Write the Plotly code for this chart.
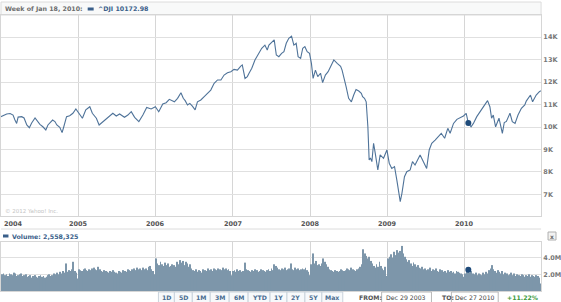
import plotly.graph_objects as go
import pandas as pd

# ---------------- data ----------------
price_dates = [
    "2003-12-29","2004-01-12","2004-01-27","2004-02-12","2004-02-26","2004-03-06","2004-03-14","2004-03-21",
    "2004-04-07","2004-04-18","2004-05-01","2004-05-13","2004-05-24","2004-06-09","2004-06-20","2004-07-02",
    "2004-07-16","2004-07-30","2004-08-09","2004-08-31","2004-09-11","2004-09-20","2004-10-04","2004-10-15",
    "2004-10-23","2004-11-05","2004-11-20","2004-12-05","2004-12-19","2005-01-03","2005-01-19","2005-02-04",
    "2005-02-23","2005-03-07","2005-03-26","2005-04-08","2005-04-26","2005-05-09","2005-05-20","2005-06-12",
    "2005-06-28","2005-07-14","2005-08-06","2005-08-22","2005-09-07","2005-09-23","2005-10-13","2005-11-01",
    "2005-11-19","2005-12-10","2005-12-30","2006-01-15","2006-02-03","2006-02-19","2006-03-06","2006-03-22",
    "2006-03-30","2006-04-14","2006-04-30","2006-05-11","2006-05-20","2006-05-31","2006-06-11","2006-06-23",
    "2006-07-06","2006-07-17","2006-08-02","2006-08-18","2006-09-02","2006-09-18","2006-10-04","2006-10-20",
    "2006-11-05","2006-11-20","2006-12-06","2006-12-22","2007-01-06","2007-01-22","2007-02-07","2007-02-14",
    "2007-02-27","2007-03-10","2007-03-18","2007-03-31","2007-04-15","2007-05-01","2007-05-17","2007-06-01",
    "2007-06-12","2007-06-20","2007-07-06","2007-07-15","2007-07-25","2007-08-06","2007-08-19","2007-08-30",
    "2007-09-10","2007-09-22","2007-10-05","2007-10-16","2007-10-27","2007-11-05","2007-11-17","2007-11-27",
    "2007-12-07","2007-12-18","2007-12-29","2008-01-07","2008-01-15","2008-01-26","2008-02-06","2008-02-19",
    "2008-02-29","2008-03-13","2008-03-26","2008-04-06","2008-04-22","2008-05-08","2008-05-24","2008-05-31",
    "2008-06-08","2008-06-19","2008-07-01","2008-07-14","2008-07-25","2008-08-05","2008-08-18","2008-08-30",
    "2008-09-05","2008-09-14","2008-09-22","2008-09-30","2008-10-06","2008-10-12","2008-10-19","2008-10-27",
    "2008-11-04","2008-11-16","2008-11-27","2008-12-13","2008-12-29","2009-01-09","2009-01-21","2009-02-03",
    "2009-02-14","2009-02-22","2009-03-02","2009-03-10","2009-03-22","2009-04-02","2009-04-18","2009-04-29",
    "2009-05-11","2009-06-04","2009-06-20","2009-07-05","2009-07-17","2009-07-29","2009-08-14","2009-08-27",
    "2009-09-12","2009-09-28","2009-10-13","2009-10-24","2009-11-09","2009-11-25","2009-12-11","2009-12-26",
    "2010-01-08","2010-01-18","2010-01-31","2010-02-11","2010-02-27","2010-03-15","2010-04-04","2010-04-19",
    "2010-04-30","2010-05-08","2010-05-16","2010-05-27","2010-06-12","2010-06-24","2010-06-28","2010-07-07",
    "2010-07-17","2010-08-03","2010-08-14","2010-08-27","2010-09-10","2010-09-26","2010-10-12","2010-10-19",
    "2010-10-30","2010-11-08","2010-11-18","2010-11-27","2010-12-05","2010-12-20","2010-12-27",
]
price_values = [
    10450,10530,10580,10600,10530,10310,10160,10440,
    10460,10400,10090,9970,10180,10400,10240,10120,
    10010,9870,10090,10310,10240,10090,9985,9750,
    10010,10460,10500,10610,10800,10580,10390,10760,
    10900,10610,10390,10090,10240,10310,10430,10610,
    10490,10580,10430,10530,10680,10430,10240,10530,
    10870,10800,10900,10680,11020,11080,11230,11150,
    11120,11275,11520,11275,11170,10980,11050,10930,
    10760,11120,11200,11350,11500,11640,11940,12090,
    12090,12310,12410,12460,12560,12530,12710,12760,
    12160,12240,12390,12610,12980,13270,13500,13640,
    13420,13640,13790,13870,13200,13125,13270,13350,
    13720,13940,14040,13640,13720,13125,13050,13500,
    13570,13350,13270,12830,12160,12530,12240,12390,
    11970,12310,12460,12680,12980,12830,12700,12530,
    12240,11790,11275,11120,11420,11670,11600,11500,
    11350,11275,11120,10010,8530,8620,8460,9275,
    8830,8090,8760,8610,8980,8390,8160,8240,
    7640,7200,6680,7050,7790,8010,8090,8460,
    8310,8760,8460,8160,8980,9275,9420,9540,
    9720,9500,9940,9720,10160,10340,10430,10490,
    10610,10172.98,10010,10160,10460,10680,10930,11170,
    10900,10390,10530,10010,10390,9870,9720,10200,
    10250,10610,10240,10160,10530,10830,10980,11150,
    11300,11420,11120,11275,11420,11570,11610,
]

# weekly volume (millions), one list per year
vol_2004 = [1.9,2.0,2.1,1.9,2.0,1.8,2.1,2.0,1.9,2.2,2.1,1.8,1.9,2.0,2.1,1.8,1.9,2.0,1.7,1.8,1.9,1.6,1.8,1.9,1.7,1.6,
            1.8,1.9,1.7,1.8,1.6,1.7,1.9,2.0,1.8,1.9,2.1,2.0,2.2,2.0,2.3,2.1,2.4,2.2,3.3,2.3,2.5,2.4,2.6,3.5,2.4,2.2,1.5]
vol_2005 = [2.6,2.5,2.4,2.6,2.7,2.5,2.4,2.6,2.5,2.7,2.8,2.6,2.5,2.9,2.6,2.4,2.3,2.5,2.4,2.3,2.2,2.4,2.3,2.5,2.3,2.2,
            2.1,2.4,2.3,2.2,2.5,2.4,2.3,2.6,2.5,2.4,2.6,2.7,2.5,2.8,2.6,2.7,2.5,2.8,2.6,2.7,2.5,2.9,3.0,2.6,2.4,2.0]
vol_2006 = [3.9,3.3,3.1,3.5,3.2,3.0,3.4,3.1,3.3,2.9,3.0,3.2,3.1,2.9,3.5,3.2,3.7,3.4,3.6,3.1,3.5,3.3,2.9,3.2,2.7,2.5,
            2.4,2.6,2.3,2.5,2.4,2.2,2.6,2.5,2.4,2.7,2.5,2.6,2.4,2.7,2.6,2.5,2.7,2.6,2.5,2.8,2.6,2.7,2.5,2.6,2.4,1.9]
vol_2007 = [2.4,2.5,2.3,2.6,2.4,2.5,2.3,2.4,3.4,2.6,2.5,2.4,2.3,2.5,2.4,2.6,2.5,2.3,2.4,2.6,2.5,2.4,2.3,2.5,2.6,2.4,
            2.7,2.5,3.2,3.0,2.8,2.6,2.5,2.7,2.6,2.8,2.5,2.6,2.7,3.3,2.6,2.5,2.8,2.6,2.7,2.5,2.6,2.7,2.6,2.8,2.5,2.3,1.9]
vol_2008 = [3.2,4.5,3.3,3.6,3.1,3.2,3.0,3.3,3.9,3.5,3.2,2.9,2.6,2.5,2.4,2.3,2.5,2.4,2.3,2.4,2.6,2.5,2.4,2.5,2.7,2.6,
            2.5,2.8,2.6,2.5,2.4,2.6,2.7,2.9,3.2,5.0,4.5,4.2,3.9,4.1,3.6,3.3,3.0,2.8,3.2,2.9,3.5,3.0,2.7,2.5,2.9,1.8]
vol_2009 = [3.9,4.1,4.4,4.0,4.7,4.3,4.9,4.6,4.8,5.4,4.5,4.1,3.8,3.5,3.7,3.3,3.0,3.4,3.2,2.9,3.1,2.8,2.7,2.9,2.6,2.7,
            2.5,2.6,2.8,2.4,2.6,2.5,2.7,2.4,2.3,2.6,2.5,2.3,2.4,2.2,2.5,2.3,2.4,2.2,2.3,2.1,2.4,2.3,2.2,2.1,2.0,1.7]
vol_2010 = [2.1,2.3,2.558325,2.2,2.4,2.1,2.0,2.2,1.9,2.1,2.0,1.9,2.2,2.0,2.3,2.1,2.5,2.7,3.1,2.6,2.4,2.2,2.5,2.3,2.1,2.4,
            2.0,2.2,2.1,1.9,2.0,2.2,1.9,2.1,1.8,2.0,1.9,1.8,2.0,1.9,1.7,1.9,1.8,2.0,1.7,1.9,1.8,1.7,1.9,1.8,1.6,0.9]
volume = vol_2004 + vol_2005 + vol_2006 + vol_2007 + vol_2008 + vol_2009 + vol_2010
vol_dates = pd.date_range("2003-12-29", periods=len(volume), freq="7D")

year_labels = ["2004", "2005", "2006", "2007", "2008", "2009", "2010"]
year_dates = ["2004-01-01", "2005-01-01", "2006-01-01", "2007-01-01", "2008-01-01", "2009-01-01", "2010-01-01"]
price_ticks = [7000, 8000, 9000, 10000, 11000, 12000, 13000, 14000]
price_ticktext = ["7K", "8K", "9K", "10K", "11K", "12K", "13K", "14K"]
vol_ticks = [2, 4]
vol_ticktext = ["2.0M", "4.0M"]

hl_date = "2010-01-18"
hl_price = 10172.98
hl_volume = 2.558325
symbol = "^DJI"
buttons = ["1D", "5D", "1M", "3M", "6M", "YTD", "1Y", "2Y", "5Y", "Max"]
from_text = "Dec 29 2003"
to_text = "Dec 27 2010"
change_text = "+11.22%"

# ---------------- layout helpers ----------------
W, H = 561, 302
def px(x): return x / W
def py(y): return 1 - y / H

FONT = "DejaVu Sans"
LINE_C = "#4f7399"
DARK = "#1f4b7a"
GRID = "#e0e0e0"
XR = ["2003-12-31", "2010-12-28"]

fig = go.Figure()
fig.add_trace(go.Scatter(x=price_dates, y=price_values, mode="lines",
                         line=dict(color=LINE_C, width=1.1), hoverinfo="skip", showlegend=False))
fig.add_trace(go.Scatter(x=[hl_date], y=[hl_price], mode="markers",
                         marker=dict(color=DARK, size=6), showlegend=False))
fig.add_trace(go.Bar(x=vol_dates, y=volume, xaxis="x2", yaxis="y2",
                     marker=dict(color="#7d96aa", line=dict(width=0)), showlegend=False))
fig.add_trace(go.Scatter(x=[hl_date], y=[hl_volume], mode="markers", xaxis="x2", yaxis="y2",
                         marker=dict(color=DARK, size=6), showlegend=False))

axis_common = dict(showline=True, mirror=True, linecolor="#d6d6d6", linewidth=1, zeroline=False, ticks="")

fig.update_layout(
    width=W, height=H, margin=dict(l=0, r=0, t=0, b=0),
    paper_bgcolor="white", plot_bgcolor="white", bargap=0.4,
    font=dict(family=FONT),
    xaxis=dict(domain=[px(1), px(543)], range=XR, type="date", tickvals=year_dates,
               showticklabels=False, showgrid=True, gridcolor="#d6d6d6", anchor="y", **axis_common),
    yaxis=dict(domain=[py(216), py(15)], range=[6044, 14978], side="right", tickvals=price_ticks,
               ticktext=["<b>%s</b>" % t for t in price_ticktext], showgrid=True, gridcolor=GRID,
               tickfont=dict(size=6.5, color="#777777", family=FONT), anchor="x", **axis_common),
    xaxis2=dict(domain=[px(1), px(543)], range=XR, type="date", tickvals=year_dates,
                showticklabels=False, showgrid=True, gridcolor="#d6d6d6", anchor="y2", **axis_common),
    yaxis2=dict(domain=[py(291), py(242)], range=[0, 5.87], side="right", tickvals=vol_ticks,
                ticktext=["<b>%s</b>" % t for t in vol_ticktext], showgrid=True, gridcolor=GRID,
                tickfont=dict(size=6.5, color="#777777", family=FONT), anchor="x2", **axis_common),
)

shapes = []
annotations = []
# header box
shapes.append(dict(type="rect", xref="paper", yref="paper", x0=px(1), x1=px(543), y0=py(15), y1=py(2),
                   line=dict(color="#dcdcdc", width=1), fillcolor="#f8f9f9", layer="below"))
shapes.append(dict(type="rect", xref="paper", yref="paper", x0=px(88), x1=px(94), y0=py(10.5), y1=py(7.5),
                   line=dict(width=0), fillcolor="#3a5f8a"))
annotations.append(dict(xref="paper", yref="paper", x=px(3), y=py(9), xanchor="left", yanchor="middle",
                        text="<b>Week of Jan 18, 2010:</b>", showarrow=False,
                        font=dict(size=6.3, color="#6d6d6d", family=FONT)))
annotations.append(dict(xref="paper", yref="paper", x=px(96), y=py(9), xanchor="left", yanchor="middle",
                        text="<b>%s %.2f</b>" % (symbol, hl_price), showarrow=False,
                        font=dict(size=6.3, color="#3a5f8a", family=FONT)))
# copyright
annotations.append(dict(xref="paper", yref="paper", x=px(3), y=py(211), xanchor="left", yanchor="middle",
                        text="© 2012 Yahoo! Inc.", showarrow=False,
                        font=dict(size=5.5, color="#c4c4c4", family=FONT)))
# year labels
for i, (lab, d) in enumerate(zip(year_labels, year_dates)):
    annotations.append(dict(xref="x", yref="paper", x=d, y=py(224), xanchor="left" if i == 0 else "center",
                            yanchor="middle", text="<b>%s</b>" % lab, showarrow=False, xshift=1 if i == 0 else 0,
                            font=dict(size=6.5, color="#555555", family=FONT)))
shapes.append(dict(type="line", xref="paper", yref="paper", x0=px(1), x1=px(543), y0=py(229), y1=py(229),
                   line=dict(color="#dcdcdc", width=1)))
# volume header
shapes.append(dict(type="rect", xref="paper", yref="paper", x0=px(3), x1=px(8.5), y0=py(237.5), y1=py(234.5),
                   line=dict(width=0), fillcolor="#3a5f8a"))
annotations.append(dict(xref="paper", yref="paper", x=px(10), y=py(236), xanchor="left", yanchor="middle",
                        text="<b>Volume: %s</b>" % format(int(round(hl_volume * 1e6)), ","), showarrow=False,
                        font=dict(size=6.3, color="#3a5f8a", family=FONT)))
# close box
shapes.append(dict(type="rect", xref="paper", yref="paper", x0=px(550), x1=px(558), y0=py(240), y1=py(232),
                   line=dict(color="#b0b0b0", width=1), fillcolor="#f2f2f2"))
annotations.append(dict(xref="paper", yref="paper", x=px(554), y=py(236), xanchor="center", yanchor="middle",
                        text="<b>x</b>", showarrow=False, font=dict(size=6, color="#666666", family=FONT)))
# range buttons
TY = 297.3
widths = [16, 18, 18, 19, 19, 22, 17, 18, 17, 21]
x = 159
for lab, w in zip(buttons, widths):
    shapes.append(dict(type="rect", xref="paper", yref="paper", x0=px(x), x1=px(x + w), y0=py(306), y1=py(292),
                       line=dict(color="#c9d3dc", width=1), fillcolor="#f7f9fb"))
    annotations.append(dict(xref="paper", yref="paper", x=px(x + w / 2), y=py(TY), xanchor="center",
                            yanchor="middle", text="<b>%s</b>" % lab, showarrow=False,
                            font=dict(size=6.2, color="#4a6d92", family=FONT)))
    x += w
annotations.append(dict(xref="paper", yref="paper", x=px(358), y=py(TY), xanchor="left", yanchor="middle",
                        text="<b>FROM:</b>", showarrow=False, font=dict(size=6.2, color="#555555", family=FONT)))
shapes.append(dict(type="rect", xref="paper", yref="paper", x0=px(383), x1=px(433), y0=py(306), y1=py(292),
                   line=dict(color="#b8b8b8", width=1), fillcolor="white"))
annotations.append(dict(xref="paper", yref="paper", x=px(385), y=py(TY), xanchor="left", yanchor="middle",
                        text=from_text, showarrow=False, font=dict(size=6.2, color="#444444", family=FONT)))
annotations.append(dict(xref="paper", yref="paper", x=px(442), y=py(TY), xanchor="left", yanchor="middle",
                        text="<b>TO:</b>", showarrow=False, font=dict(size=6.2, color="#555555", family=FONT)))
shapes.append(dict(type="rect", xref="paper", yref="paper", x0=px(453), x1=px(500), y0=py(306), y1=py(292),
                   line=dict(color="#b8b8b8", width=1), fillcolor="white"))
annotations.append(dict(xref="paper", yref="paper", x=px(455), y=py(TY), xanchor="left", yanchor="middle",
                        text=to_text, showarrow=False, font=dict(size=6.2, color="#444444", family=FONT)))
annotations.append(dict(xref="paper", yref="paper", x=px(542), y=py(TY), xanchor="right", yanchor="middle",
                        text="<b>%s</b>" % change_text, showarrow=False,
                        font=dict(size=6.2, color="#3c9a3c", family=FONT)))

fig.update_layout(shapes=shapes, annotations=annotations)
fig.write_html("out.html")
